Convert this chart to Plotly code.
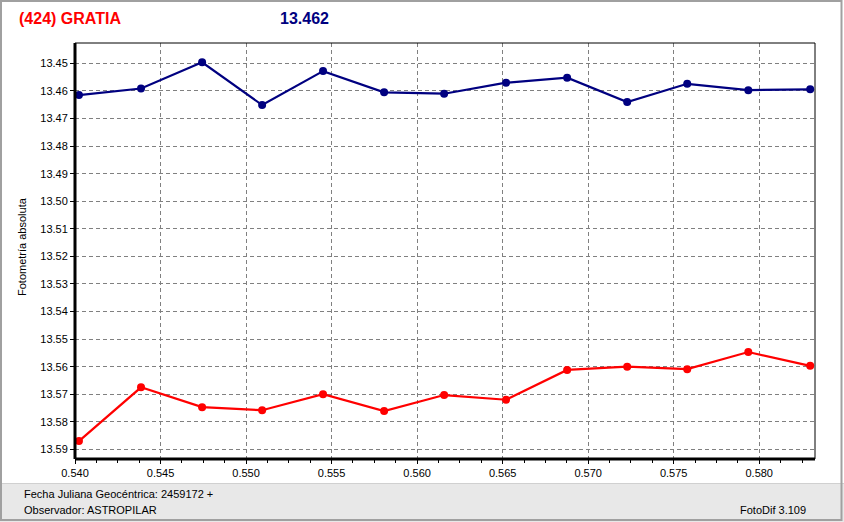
import plotly.graph_objects as go

# Data
jd = [0.54023, 0.54386, 0.54743, 0.55094, 0.55450, 0.55807, 0.56158,
      0.56520, 0.56877, 0.57228, 0.57579, 0.57936, 0.58298]
mag_blue = [13.4615, 13.4591, 13.4496, 13.4651, 13.4528, 13.4605, 13.4610,
            13.4570, 13.4552, 13.4640, 13.4574, 13.4597, 13.4594]
mag_red = [13.5870, 13.5675, 13.5747, 13.5758, 13.5700, 13.5761, 13.5703,
           13.5720, 13.5612, 13.5600, 13.5609, 13.5547, 13.5597]
x_ticks = [0.540, 0.545, 0.550, 0.555, 0.560, 0.565, 0.570, 0.575, 0.580]
x_labels = ["0.540", "0.545", "0.550", "0.555", "0.560", "0.565", "0.570", "0.575", "0.580"]
y_ticks = [13.45, 13.46, 13.47, 13.48, 13.49, 13.50, 13.51, 13.52,
           13.53, 13.54, 13.55, 13.56, 13.57, 13.58, 13.59]
y_labels = ["%.2f" % v for v in y_ticks]

W, H = 844, 522
L, R, T, B = 75, 815, 43, 459
pw, ph = R - L, B - T


def px(x):
    return (x - L) / pw


def py(y):
    return (B - y) / ph


FONT = "Liberation Sans, Arial, sans-serif"

fig = go.Figure()
fig.add_trace(go.Scatter(x=jd, y=mag_blue, mode="lines+markers",
                         line=dict(color="#000080", width=2.2),
                         marker=dict(color="#000080", size=8),
                         showlegend=False))
fig.add_trace(go.Scatter(x=jd, y=mag_red, mode="lines+markers",
                         line=dict(color="#ff0000", width=2.2),
                         marker=dict(color="#ff0000", size=8),
                         showlegend=False))

shapes = [
    # bottom gray strip
    dict(type="rect", xref="paper", yref="paper", x0=px(0), x1=px(W), y0=py(522), y1=py(483),
         fillcolor="#e8e8e8", line=dict(width=0), layer="below"),
    dict(type="line", xref="paper", yref="paper", x0=px(0), x1=px(W), y0=py(483.5), y1=py(483.5),
         line=dict(color="#d0d0d0", width=1)),
    # window border
    dict(type="rect", xref="paper", yref="paper", x0=px(1), x1=px(W - 2.5), y0=py(H - 2), y1=py(1),
         line=dict(color="#a0a0a0", width=2)),
    # plot frame
    dict(type="rect", xref="paper", yref="paper", x0=0, x1=1, y0=0, y1=1,
         line=dict(color="black", width=1)),
    dict(type="line", xref="paper", yref="paper", x0=0, x1=0, y0=0, y1=1,
         line=dict(color="black", width=3)),
    dict(type="line", xref="paper", yref="paper", x0=0, x1=1, y0=0, y1=0,
         line=dict(color="black", width=3)),
]

annotations = [
    dict(text="<b>(424) GRATIA</b>", x=px(17), y=py(18), xref="paper", yref="paper",
         xanchor="left", yanchor="middle", showarrow=False,
         font=dict(family=FONT, size=16, color="#ff0000")),
    dict(text="<b>13.462</b>", x=px(304), y=py(18), xref="paper", yref="paper",
         xanchor="center", yanchor="middle", showarrow=False,
         font=dict(family=FONT, size=16, color="#000080")),
    dict(text="Fotometría absoluta", x=px(22), y=py(247), xref="paper", yref="paper",
         xanchor="center", yanchor="middle", showarrow=False, textangle=-90,
         font=dict(family=FONT, size=11, color="black")),
    dict(text="Fecha Juliana Geocéntrica: 2459172 +", x=px(22), y=py(494), xref="paper", yref="paper",
         xanchor="left", yanchor="middle", showarrow=False,
         font=dict(family=FONT, size=11, color="black")),
    dict(text="Observador: ASTROPILAR", x=px(22), y=py(510), xref="paper", yref="paper",
         xanchor="left", yanchor="middle", showarrow=False,
         font=dict(family=FONT, size=11, color="black")),
    dict(text="FotoDif 3.109", x=px(808), y=py(510), xref="paper", yref="paper",
         xanchor="right", yanchor="middle", showarrow=False,
         font=dict(family=FONT, size=11, color="black")),
]

fig.update_layout(
    width=W, height=H,
    margin=dict(l=L, r=W - R, t=T, b=H - B, pad=0),
    paper_bgcolor="white", plot_bgcolor="white",
    shapes=shapes, annotations=annotations,
    font=dict(family=FONT, size=11, color="black"),
    xaxis=dict(range=[0.540, 0.58326], tickmode="array", tickvals=x_ticks, ticktext=x_labels,
               showgrid=True, gridcolor="#808080", griddash="4px,3px", gridwidth=1,
               zeroline=False, showline=False, ticks="outside", ticklen=4, tickcolor="black",
               minor=dict(dtick=0.00125, tick0=0.540, ticks="outside", ticklen=3,
                          tickcolor="black", showgrid=False),
               tickfont=dict(family=FONT, size=11, color="black")),
    yaxis=dict(range=[13.5935, 13.4426], tickmode="array", tickvals=y_ticks, ticktext=y_labels,
               showgrid=True, gridcolor="#808080", griddash="4px,3px", gridwidth=1,
               zeroline=False, showline=False, ticks="outside", ticklen=4, tickcolor="black",
               tickfont=dict(family=FONT, size=11, color="black")),
)

fig.write_html("out.html",
               config={"displayModeBar": False},
               post_script="document.body.style.margin='0';document.body.style.padding='0';"
                           "document.documentElement.style.overflow='hidden';")
